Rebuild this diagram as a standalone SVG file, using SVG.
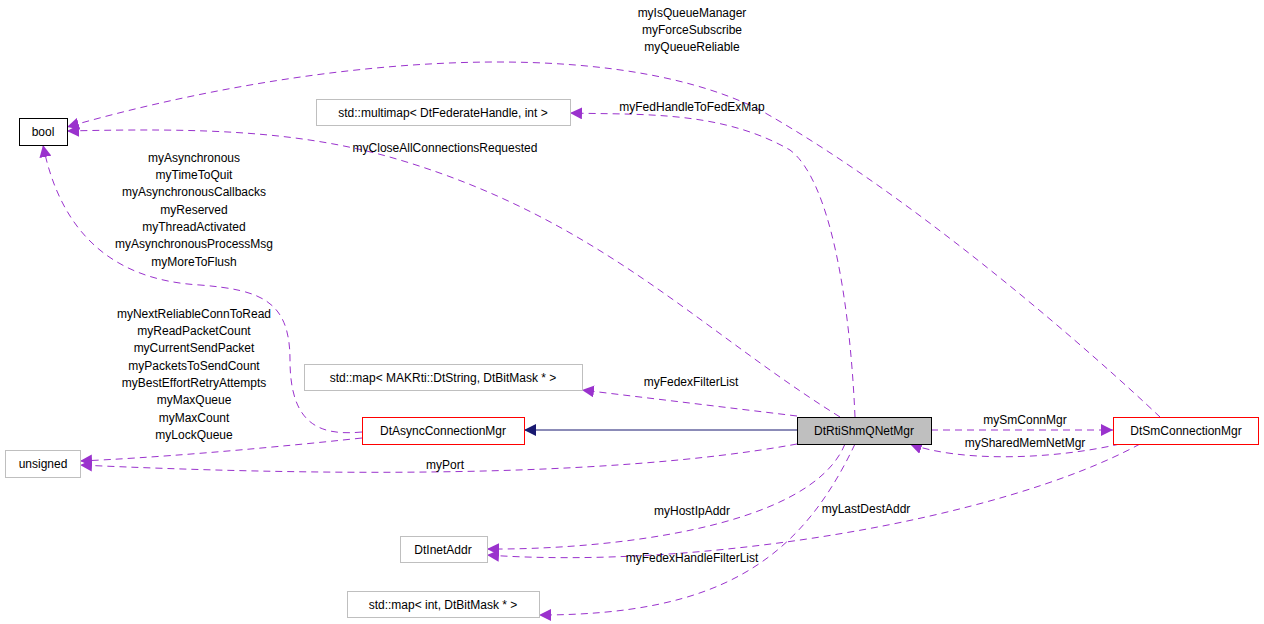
<svg xmlns="http://www.w3.org/2000/svg" width="1264" height="624" viewBox="0 0 1264 624">
<style>
text{font-family:"Liberation Sans",Arial,sans-serif;font-size:12px;fill:#000}
.n{fill:#fff;stroke-width:1}
.g{stroke:#bfbfbf}.r{stroke:#ff0000}.k{stroke:#000}
.e{fill:none;stroke:#9a32cd;stroke-dasharray:7,5}
</style>
<defs>
<marker id="a" viewBox="0 0 10 10" refX="10" refY="5" markerWidth="12" markerHeight="12" markerUnits="userSpaceOnUse" orient="auto"><path d="M0,0L10,5L0,10z" fill="#9a32cd"/></marker>
<marker id="b" viewBox="0 0 10 10" refX="10" refY="5" markerWidth="12" markerHeight="12" markerUnits="userSpaceOnUse" orient="auto"><path d="M0,0L10,5L0,10z" fill="#191970"/></marker>
</defs>
<g id="edges">
<path d="M797,430H524" stroke="#191970" fill="none" marker-end="url(#b)"/>
<path class="e" d="M1160,417C1100,360 920,200 760,110C600,30 300,60 67,127" marker-end="url(#a)"/>
<path class="e" d="M840,417C700,330 600,220 400,160C300,130 200,128 67,131" marker-end="url(#a)"/>
<path class="e" d="M362,432C320,436 290,425 290,360C290,300 260,290 200,285C110,280 60,230 43,145" marker-end="url(#a)"/>
<path class="e" d="M855,417C850,300 830,180 790,150C720,110 640,115 570,113" marker-end="url(#a)"/>
<path class="e" d="M797,416L582,390" marker-end="url(#a)"/>
<path class="e" d="M362,438C250,450 150,458 80,461" marker-end="url(#a)"/>
<path class="e" d="M797,444C600,480 300,475 80,465" marker-end="url(#a)"/>
<path class="e" d="M931,430H1113" marker-end="url(#a)"/>
<path class="e" d="M1120,444C1050,460 960,462 910,444" marker-end="url(#a)"/>
<path class="e" d="M845,444C810,530 600,550 487,549" marker-end="url(#a)"/>
<path class="e" d="M1140,444C1000,520 700,570 487,555" marker-end="url(#a)"/>
<path class="e" d="M855,444C800,560 720,615 539,615" marker-end="url(#a)"/>
</g>
<g id="labels" text-anchor="middle">
<text x="692" y="17">myIsQueueManager</text>
<text x="692" y="34">myForceSubscribe</text>
<text x="692" y="51">myQueueReliable</text>
<text x="692" y="111">myFedHandleToFedExMap</text>
<text x="445" y="152">myCloseAllConnectionsRequested</text>
<text x="194" y="162">myAsynchronous</text>
<text x="194" y="179">myTimeToQuit</text>
<text x="194" y="196">myAsynchronousCallbacks</text>
<text x="194" y="214">myReserved</text>
<text x="194" y="231">myThreadActivated</text>
<text x="194" y="248">myAsynchronousProcessMsg</text>
<text x="194" y="266">myMoreToFlush</text>
<text x="194" y="318">myNextReliableConnToRead</text>
<text x="194" y="335">myReadPacketCount</text>
<text x="194" y="352">myCurrentSendPacket</text>
<text x="194" y="370">myPacketsToSendCount</text>
<text x="194" y="387">myBestEffortRetryAttempts</text>
<text x="194" y="404">myMaxQueue</text>
<text x="194" y="422">myMaxCount</text>
<text x="194" y="439">myLockQueue</text>
<text x="691" y="386">myFedexFilterList</text>
<text x="445" y="469">myPort</text>
<text x="1025" y="424">mySmConnMgr</text>
<text x="1025" y="447">mySharedMemNetMgr</text>
<text x="692" y="515">myHostIpAddr</text>
<text x="866" y="513">myLastDestAddr</text>
<text x="692" y="562">myFedexHandleFilterList</text>
</g>
<g id="bool"><rect class="n k" x="19.5" y="118.5" width="48" height="27"/><text x="43" y="136" text-anchor="middle">bool</text></g>
<g id="multimap"><rect class="n g" x="316.5" y="99.5" width="254" height="26"/><text x="443" y="117" text-anchor="middle">std::multimap&lt; DtFederateHandle, int &gt;</text></g>
<g id="mapstr"><rect class="n g" x="304.5" y="364.5" width="278" height="26"/><text x="443" y="382" text-anchor="middle">std::map&lt; MAKRti::DtString, DtBitMask * &gt;</text></g>
<g id="async"><rect class="n r" x="362.5" y="417.5" width="162" height="27"/><text x="443" y="435" text-anchor="middle">DtAsyncConnectionMgr</text></g>
<g id="main"><rect x="797.5" y="417.5" width="134" height="27" fill="#bfbfbf" stroke="#000"/><text x="864" y="435" text-anchor="middle">DtRtiShmQNetMgr</text></g>
<g id="sm"><rect class="n r" x="1113.5" y="417.5" width="145" height="27"/><text x="1186" y="435" text-anchor="middle">DtSmConnectionMgr</text></g>
<g id="unsigned"><rect class="n g" x="5.5" y="450.5" width="75" height="27"/><text x="43" y="468" text-anchor="middle">unsigned</text></g>
<g id="inet"><rect class="n g" x="400.5" y="536.5" width="87" height="26"/><text x="443" y="554" text-anchor="middle">DtInetAddr</text></g>
<g id="mapint"><rect class="n g" x="347.5" y="591.5" width="192" height="26"/><text x="443" y="609" text-anchor="middle">std::map&lt; int, DtBitMask * &gt;</text></g>
</svg>
